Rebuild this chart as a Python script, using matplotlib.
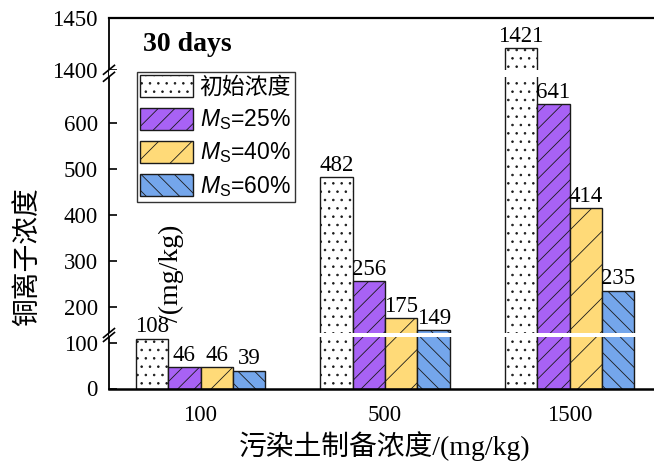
import numpy as np
import matplotlib
matplotlib.use("Agg")
import matplotlib.pyplot as plt

# data (Cu ion concentration after 30 days)
categories = ["100", "500", "1500"]
initial = [108, 482, 1421]
ms25 = [46, 256, 641]
ms40 = [46, 175, 414]
ms60 = [39, 149, 235]
labels = ["初始浓度", r"$M_\mathrm{S}$=25%", r"$M_\mathrm{S}$=40%", r"$M_\mathrm{S}$=60%"]
yticks = [0, 100, 200, 300, 400, 500, 600, 1400, 1450]

plt.rcParams["font.family"] = ["Liberation Serif", "Noto Sans CJK SC"]
plt.rcParams["mathtext.fontset"] = "custom"
plt.rcParams["mathtext.rm"] = "Liberation Sans"
plt.rcParams["mathtext.it"] = "Liberation Sans:italic"
plt.rcParams["hatch.linewidth"] = 0.6

# broken y axis: piecewise linear scale (value -> pixel-ish units)
brk_v = [0, 112, 143, 700, 1400, 1450]
brk_f = [0, 51.52, 55.52, 311.74, 318.74, 370.74]


def piecewise(x, xp, fp):
    x = np.asarray(x, float)
    y = np.interp(x, xp, fp)
    y = np.where(x < xp[0], fp[0] + (x - xp[0]) * (fp[1] - fp[0]) / (xp[1] - xp[0]), y)
    y = np.where(x > xp[-1], fp[-1] + (x - xp[-1]) * (fp[-1] - fp[-2]) / (xp[-1] - xp[-2]), y)
    return y


def fwd(v):
    return piecewise(v, brk_v, brk_f)


def inv(f):
    return piecewise(f, brk_f, brk_v)


fig = plt.figure(figsize=(6.54, 4.62), dpi=100)
ax = fig.add_axes([109 / 654, 73.5 / 462, 545 / 654, 370.7 / 462])
ax.set_yscale("function", functions=(fwd, inv))

x = np.arange(len(categories))
w = 0.176
series = [initial, ms25, ms40, ms60]
colors = ["white", "#A862F5", "#FFDA78", "#74A6EB"]
hatches = ["..", "//", "/", "\\\\"]

for i, (vals, c, h, lab) in enumerate(zip(series, colors, hatches, labels)):
    xs = x + (i - 1.5) * w
    ax.bar(xs, vals, w, color=c, edgecolor="#1a1a1a", linewidth=1.0,
           hatch=h, label=lab, zorder=2)
    for xi, v in zip(xs, vals):
        ax.annotate(str(v), (xi, v), xytext=(0, 1.0), textcoords="offset points",
                    ha="center", va="bottom", fontsize=16.5)

# white gaps at the axis breaks
ax.axhspan(112, 143, color="white", zorder=3, lw=0)
ax.axhspan(700, 1400, color="white", zorder=3, lw=0)

# break marks on the left spine
top = fwd(1450)
for lo, hi in [(112, 143), (700, 1400)]:
    for v in (lo, hi):
        yb = fwd(v) / top
        ax.plot([-0.01, 0.01], [yb - 0.012, yb + 0.012], transform=ax.transAxes,
                color="black", lw=1.2, clip_on=False, zorder=5)

ax.set_xlim(-0.496, 2.458)
ax.set_ylim(0, 1450)
ax.set_xticks(x)
ax.set_xticklabels(categories)
ax.set_yticks(yticks)
ax.tick_params(axis="x", length=0, pad=12, labelsize=16.5)
ax.tick_params(axis="y", direction="in", length=6, width=1.2, pad=8, labelsize=16.5)
ax.minorticks_off()

ax.spines["right"].set_visible(False)
ax.spines["top"].set_linewidth(1.6)
ax.spines["bottom"].set_linewidth(1.8)
ax.spines["left"].set_linewidth(1.3)

leg = ax.legend(loc="upper left", bbox_to_anchor=(0.0514, 0.854), borderaxespad=0,
                prop={"family": ["Liberation Sans", "Noto Sans CJK SC"], "size": 16.5},
                handlelength=2.3, handleheight=1.1, labelspacing=0.36,
                handletextpad=0.28, borderpad=0.15, fancybox=False, framealpha=1)
leg.get_frame().set_edgecolor("#333333")
leg.get_frame().set_linewidth(1.0)
leg.set_zorder(6)

fig.text(143 / 654, 1 - 51 / 462, "30 days", fontsize=20, fontweight="bold",
         ha="left", va="baseline")

fig.text(28 / 654, 1 - 257 / 462, "铜离子浓度", rotation=90, fontsize=20,
         ha="center", va="center")
fig.text(171 / 654, 1 - 273 / 462, "/(mg/kg)", rotation=90, fontsize=20,
         ha="center", va="center")
fig.text(385 / 654, 1 - 446 / 462, "污染土制备浓度/(mg/kg)", fontsize=20,
         ha="center", va="center")

fig.savefig("out.png", dpi=100)
